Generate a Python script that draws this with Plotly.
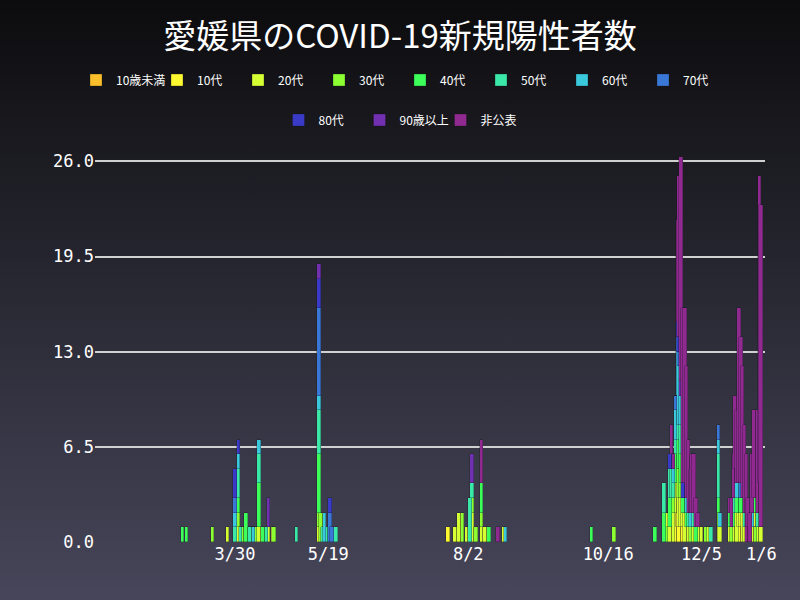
import plotly.graph_objects as go

GROUPS = ["10歳未満", "10代", "20代", "30代", "40代", "50代", "60代", "70代", "80代", "90歳以上", "非公表"]
COLORS = ["#fbbf2a", "#fdf830", "#d6ff33", "#8cff33", "#3dff5a", "#3ae8a8", "#3ac8dc", "#3a78d8",
          "#3a3ac8", "#7030b0", "#902a90"]

# daily counts per group (date -> people)
u10 = {"2020-11-22": 1, "2020-11-24": 1, "2020-12-26": 1, "2021-01-05": 1}
t10 = {"2020-07-22": 1, "2020-11-19": 1, "2020-11-21": 2, "2020-11-22": 2, "2020-11-23": 1, "2020-11-25": 1,
       "2020-11-27": 1, "2020-12-23": 1, "2020-12-25": 1, "2021-01-02": 1, "2021-01-05": 1}
t20 = {"2020-03-26": 1, "2020-03-31": 1, "2020-04-01": 1, "2020-04-04": 1, "2020-04-08": 1, "2020-04-12": 1,
       "2020-04-17": 1, "2020-04-19": 1, "2020-05-14": 1, "2020-07-26": 1, "2020-07-28": 2, "2020-08-01": 1,
       "2020-08-04": 2, "2020-08-09": 1, "2020-08-11": 1, "2020-08-21": 1, "2020-11-17": 2, "2020-11-18": 1,
       "2020-11-19": 1, "2020-11-20": 2, "2020-11-21": 2, "2020-11-22": 2, "2020-11-23": 2, "2020-11-24": 2,
       "2020-11-25": 1, "2020-11-26": 2, "2020-11-28": 1, "2020-11-30": 1, "2020-12-01": 1, "2020-12-03": 1,
       "2020-12-05": 1, "2020-12-09": 1, "2020-12-14": 1, "2020-12-15": 1, "2020-12-20": 1, "2020-12-22": 1,
       "2020-12-23": 1, "2020-12-24": 2, "2020-12-25": 1, "2020-12-26": 1, "2020-12-27": 2, "2020-12-28": 1,
       "2020-12-30": 1, "2021-01-01": 1, "2021-01-02": 1, "2021-01-04": 1, "2021-01-06": 1}
t30 = {"2020-03-18": 1, "2020-04-01": 1, "2020-04-03": 1, "2020-04-06": 1, "2020-04-10": 1, "2020-04-20": 1,
       "2020-05-14": 1, "2020-05-15": 2, "2020-07-30": 2, "2020-08-04": 1, "2020-08-06": 1, "2020-08-09": 1,
       "2020-10-19": 1, "2020-11-16": 1, "2020-11-19": 1, "2020-11-20": 1, "2020-11-22": 2, "2020-11-23": 2,
       "2020-11-24": 1, "2020-11-26": 1, "2020-11-29": 1, "2020-12-07": 1, "2020-12-14": 1, "2020-12-21": 1,
       "2020-12-23": 1, "2020-12-25": 2, "2020-12-27": 1, "2021-01-03": 1, "2021-01-05": 1}
t40 = {"2020-03-02": 1, "2020-03-04": 1, "2020-04-01": 1, "2020-04-05": 2, "2020-04-12": 3, "2020-04-14": 1,
       "2020-05-14": 4, "2020-08-09": 2, "2020-08-13": 1, "2020-10-07": 1, "2020-11-10": 1, "2020-11-15": 2,
       "2020-11-18": 2, "2020-11-21": 2, "2020-11-22": 1, "2020-11-23": 2, "2020-11-24": 2, "2020-11-25": 1,
       "2020-11-27": 1, "2020-11-30": 1, "2020-12-02": 1, "2020-12-14": 1, "2020-12-20": 1, "2020-12-22": 1,
       "2020-12-24": 1, "2020-12-26": 1, "2021-01-02": 1}
t50 = {"2020-03-30": 1, "2020-04-01": 2, "2020-04-02": 1, "2020-04-07": 1, "2020-04-12": 2, "2020-04-16": 1,
       "2020-05-02": 1, "2020-05-14": 3, "2020-05-16": 1, "2020-05-18": 1, "2020-05-23": 1, "2020-08-03": 3,
       "2020-08-04": 1, "2020-11-15": 2, "2020-11-18": 2, "2020-11-19": 2, "2020-11-20": 1, "2020-11-21": 1,
       "2020-11-22": 2, "2020-11-23": 1, "2020-11-24": 2, "2020-11-26": 1, "2020-11-28": 1, "2020-12-01": 1,
       "2020-12-10": 1, "2020-12-14": 3, "2020-12-22": 1, "2020-12-23": 2, "2020-12-28": 1, "2021-01-04": 1}
t60 = {"2020-03-30": 1, "2020-04-01": 1, "2020-04-09": 1, "2020-04-12": 1, "2020-05-14": 1, "2020-05-17": 2,
       "2020-08-22": 1, "2020-11-20": 1, "2020-11-21": 2, "2020-11-22": 3, "2020-11-23": 4, "2020-11-24": 2,
       "2020-11-27": 1, "2020-11-29": 1, "2020-12-14": 1, "2020-12-15": 1, "2020-12-24": 1, "2021-01-01": 1}
t70 = {"2020-03-30": 1, "2020-05-14": 6, "2020-05-20": 2, "2020-05-21": 1, "2020-11-19": 1, "2020-11-21": 1,
       "2020-11-22": 1, "2020-11-23": 1, "2020-12-14": 1, "2020-12-26": 1}
t80 = {"2020-03-30": 2, "2020-04-01": 1, "2020-05-14": 2, "2020-05-20": 1, "2020-11-18": 1, "2020-11-22": 1,
       "2020-11-23": 1, "2020-11-25": 1, "2021-01-05": 1}
t90 = {"2020-04-17": 2, "2020-05-14": 1, "2020-08-04": 2, "2020-11-24": 1}
nd = {"2020-08-09": 3, "2020-08-18": 1, "2020-11-19": 2, "2020-11-20": 1, "2020-11-21": 0, "2020-11-22": 7,
      "2020-11-23": 11, "2020-11-24": 16, "2020-11-25": 12, "2020-11-26": 12, "2020-11-27": 9, "2020-11-28": 5,
      "2020-11-29": 3, "2020-11-30": 4, "2020-12-01": 4, "2020-12-02": 2, "2020-12-03": 1, "2020-12-20": 1,
      "2020-12-21": 2, "2020-12-22": 3, "2020-12-23": 5, "2020-12-24": 5, "2020-12-25": 12, "2020-12-26": 10,
      "2020-12-27": 9, "2020-12-28": 6, "2020-12-29": 6, "2020-12-30": 2, "2020-12-31": 2, "2021-01-01": 4,
      "2021-01-02": 6, "2021-01-04": 7, "2021-01-05": 21, "2021-01-06": 22}
SERIES = [u10, t10, t20, t30, t40, t50, t60, t70, t80, t90, nd]

TICK_VALS = ["2020-03-30", "2020-05-19", "2020-08-02", "2020-10-16", "2020-12-05", "2021-01-06"]
TICK_TEXT = ["3/30", "5/19", "8/2", "10/16", "12/5", "1/6"]
Y_TICKS = [0, 6.5, 13, 19.5, 26]

DAY_MS = 86400000
fig = go.Figure()
for i, (name, color, s) in enumerate(zip(GROUPS, COLORS, SERIES)):
    fig.add_trace(go.Bar(x=list(s.keys()), y=list(s.values()), name=name, width=1.9 * DAY_MS,
                         legend="legend" if i < 8 else "legend2",
                         marker=dict(color=color, line=dict(color="rgba(20,20,30,0.6)", width=0.5))))

L, R, T, B = 95, 35, 157, 58
pw, ph = 800 - L - R, 600 - T - B
bg_svg = ("data:image/svg+xml;utf8,<svg xmlns='http://www.w3.org/2000/svg' width='800' height='600' "
          "preserveAspectRatio='none'>"
          "<defs><linearGradient id='g' x1='0' y1='0' x2='0' y2='1'>"
          "<stop offset='0' stop-color='%230c0c0e'/><stop offset='1' stop-color='%2347465a'/>"
          "</linearGradient></defs><rect width='800' height='600' fill='url(%23g)'/></svg>")

leg_style = dict(orientation="h", xref="container", x=0.5, xanchor="center", yref="container",
                 yanchor="middle", bgcolor="rgba(0,0,0,0)",
                 font=dict(family="Noto Sans CJK JP", size=12, color="white"),
                 itemwidth=30, entrywidth=36, entrywidthmode="pixels", traceorder="normal")

fig.update_layout(
    width=800, height=600,
    margin=dict(l=L, r=R, t=T, b=B, autoexpand=False),
    paper_bgcolor="#2a2a33", plot_bgcolor="rgba(0,0,0,0)",
    barmode="stack", bargap=0,
    font=dict(family="DejaVu Sans Mono", color="white"),
    title=dict(text="愛媛県のCOVID-19新規陽性者数", x=0.5, xanchor="center", y=0.94, yanchor="middle",
               font=dict(family="Noto Sans CJK JP", size=33, color="white")),
    legend=dict(leg_style, y=1 - 80 / 600),
    legend2=dict(leg_style, y=1 - 120 / 600),
    xaxis=dict(type="date", range=["2020-01-15", "2021-01-08"], tickvals=TICK_VALS, ticktext=TICK_TEXT,
               showgrid=False, zeroline=False, tickfont=dict(size=17), ticks="", automargin=False),
    yaxis=dict(range=[0, 26.3], tickvals=Y_TICKS, tickformat=".1f", gridcolor="#d0d0d0", gridwidth=1.5,
               zeroline=False, tickfont=dict(size=17), automargin=False),
    images=[dict(source=bg_svg, xref="paper", yref="paper", x=-L / pw, y=1 + T / ph,
                 sizex=800 / pw, sizey=600 / ph, sizing="stretch", layer="below")],
)
fig.write_html("out.html", config={"displayModeBar": False},
               post_script="document.body.style.margin='0';")
